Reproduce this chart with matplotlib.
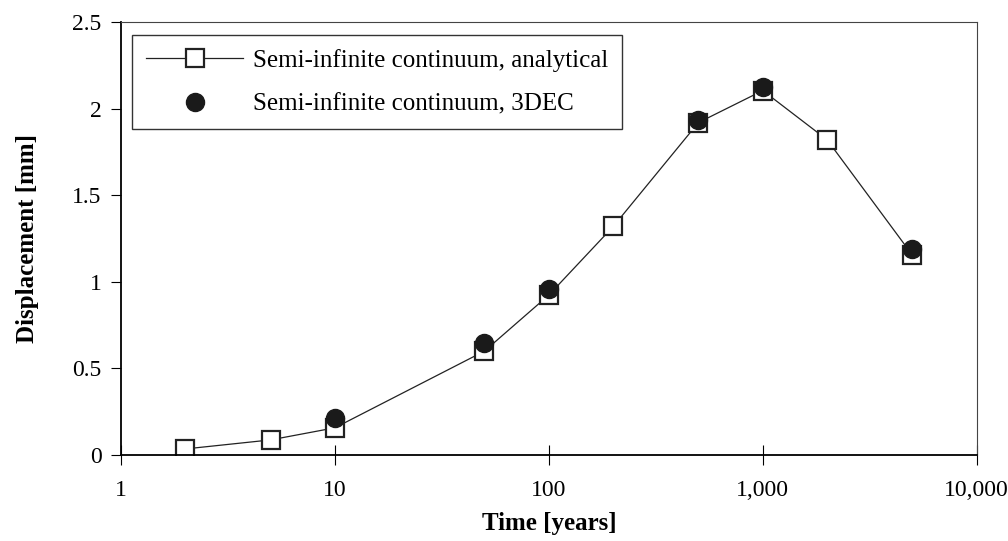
import matplotlib.pyplot as plt
from matplotlib.ticker import FuncFormatter, NullLocator

plt.rcParams["font.family"] = ["Liberation Serif", "DejaVu Serif"]

time_analytical = [2, 5, 10, 50, 100, 200, 500, 1000, 2000, 5000]
disp_analytical = [0.035, 0.087, 0.157, 0.60, 0.924, 1.32, 1.92, 2.105, 1.82, 1.155]

time_3dec = [10, 50, 100, 500, 1000, 5000]
disp_3dec = [0.215, 0.645, 0.958, 1.935, 2.125, 1.19]

fig = plt.figure(figsize=(10.08, 5.41), dpi=100)
ax = fig.add_axes([0.120, 0.159, 0.849, 0.8])

ax.plot(time_analytical, disp_analytical, color="#222222", linewidth=0.9,
        marker="s", markersize=12.5, markerfacecolor="white",
        markeredgecolor="#222222", markeredgewidth=1.6,
        label="Semi-infinite continuum, analytical")
ax.plot(time_3dec, disp_3dec, linestyle="none", marker="o", markersize=13,
        color="#1a1a1a", label="Semi-infinite continuum, 3DEC")

ax.set_xscale("log")
ax.set_xlim(1, 10000)
ax.set_ylim(0, 2.5)
ax.set_xticks([1, 10, 100, 1000, 10000])
ax.xaxis.set_minor_locator(NullLocator())
ax.xaxis.set_major_formatter(FuncFormatter(lambda v, p: f"{int(round(v)):,}"))
ax.set_yticks([0, 0.5, 1, 1.5, 2, 2.5])
ax.set_yticklabels(["0", "0.5", "1", "1.5", "2", "2.5"])

ax.tick_params(axis="x", direction="inout", length=14, width=0.8, labelsize=17, pad=11)
ax.tick_params(axis="y", direction="out", length=7, width=0.8, labelsize=17, pad=7)
for side in ["left", "bottom"]:
    ax.spines[side].set_linewidth(1.3)
for side in ["top", "right"]:
    ax.spines[side].set_linewidth(0.8)
    ax.spines[side].set_color("#444444")

ax.set_xlabel("Time [years]", fontsize=18, fontweight="bold", labelpad=8)
ax.set_ylabel("Displacement [mm]", fontsize=18, fontweight="bold", labelpad=24)

leg = ax.legend(loc="upper left", bbox_to_anchor=(0.013, 0.97), fontsize=18,
                fancybox=False, edgecolor="#333333", framealpha=1,
                handlelength=3.9, handletextpad=0.4, borderpad=0.55,
                borderaxespad=0, labelspacing=0.85)
leg.get_frame().set_linewidth(1.0)

fig.savefig("out.png", dpi=100)
